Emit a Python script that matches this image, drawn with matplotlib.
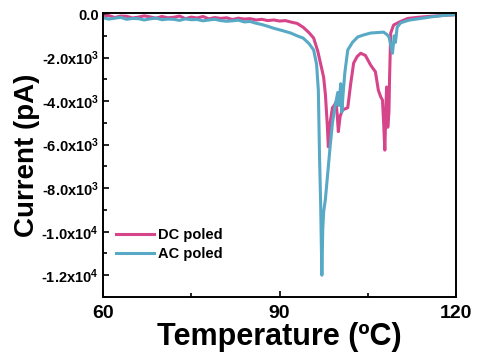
import matplotlib
matplotlib.use("Agg")
import matplotlib.pyplot as plt
from matplotlib.ticker import MultipleLocator, FixedLocator, FuncFormatter

plt.rcParams['font.family'] = ['Liberation Sans', 'DejaVu Sans']
plt.rcParams['font.weight'] = 'bold'
plt.rcParams['mathtext.fontset'] = 'custom'
plt.rcParams['mathtext.rm'] = 'Liberation Sans:bold'
plt.rcParams['mathtext.bf'] = 'Liberation Sans:bold'
plt.rcParams['mathtext.default'] = 'bf'

# DC poled curve (temperature in C, current in pA)
dc_temp = [60, 61, 62, 63, 64, 65, 66, 67, 68, 69, 70, 71, 72, 73, 74, 75, 76, 77,
           78, 79, 80, 81, 82, 83, 84, 85, 86, 87, 88, 89, 90, 91, 92, 93, 94, 95,
           95.8, 96.5, 97.0, 97.5, 97.8, 98.1, 98.3, 98.6, 99.0,
           99.3, 99.6, 99.8, 100.0, 100.3, 100.7, 101.2, 101.6, 102.1, 102.6,
           103.2, 103.8, 104.6, 105.5, 106.3, 106.8, 107.2, 107.5, 107.7, 107.9,
           108.1, 108.2, 108.4, 108.6, 108.7, 108.9, 109.4, 110.5, 111.8, 113.5,
           115.7, 118, 120]
dc_current = [-110, -70, -160, -90, -100, -180, -140, -80, -130, -190, -110, -170,
              -150, -90, -210, -140, -180, -110, -220, -160, -200, -170, -250, -190,
              -230, -210, -270, -240, -300, -270, -320, -300, -370, -430, -600,
              -850, -1100, -1700, -2300, -2900, -3700, -5000, -6100, -5000, -4300,
              -4200, -4050, -4600, -5400, -4700, -4400, -4350, -4300, -3200, -2250,
              -1950, -1800, -1900, -2350, -2650, -3500, -3800, -3950, -5000, -6250,
              -4200, -3350, -5200, -4500, -3000, -870, -500, -350, -200, -150, -100,
              -60, -30]

# AC poled curve
ac_temp = [60, 61, 62, 63, 64, 65, 66, 67, 68, 69, 70, 71, 72, 73, 74, 75, 76, 77,
           78, 79, 80, 81, 82, 83, 84, 85, 86, 87, 88, 89, 90.5, 91.9, 93, 94, 95,
           95.8, 96.3, 96.6, 96.8, 97.0, 97.1, 97.2, 97.35, 97.5, 97.8, 98.2, 98.6,
           99.0, 99.4, 99.9, 100.1, 100.4, 100.6, 100.8, 101.1, 101.6, 102.4, 103.3,
           104.4, 105.5, 106.6, 107.7, 108.3, 108.6, 108.9, 109.2, 109.5, 109.7,
           110.0, 110.6, 112, 114, 116, 118, 120]
ac_current = [-170, -230, -190, -150, -240, -200, -210, -270, -220, -180, -260,
              -230, -240, -290, -220, -260, -250, -310, -270, -240, -300, -330,
              -310, -280, -360, -340, -420, -480, -560, -650, -760, -870, -1000,
              -1100, -1350, -1650, -2300, -3500, -6500, -8800, -10500, -12000,
              -9900, -9100, -8500, -7300, -6100, -5000, -4300, -3600, -4200, -3200,
              -4500, -3700, -2700, -1650, -1300, -1050, -950, -870, -850, -830,
              -950, -1050, -1400, -1800, -1000, -1300, -600, -400, -280, -200, -120,
              -60, -20]

x_ticks = [60, 90, 120]
y_ticks = [0, -2000, -4000, -6000, -8000, -10000, -12000]

dc_color = "#d6448a"
ac_color = "#57a9c5"


def sci_label(v, pos):
    if v == 0:
        return "0.0"
    exp = 3 if abs(v) < 10000 else 4
    return r"-%.1fx10$^{%d}$" % (abs(v) / 10 ** exp, exp)


fig = plt.figure(figsize=(4.78, 3.56), dpi=100)
ax = fig.add_axes([0.2155, 0.1657, 0.7385, 0.7978])

ax.plot(dc_temp, dc_current, color=dc_color, lw=2.2, label="DC poled")
ax.plot(ac_temp, ac_current, color=ac_color, lw=2.2, label="AC poled")

ax.set_xlim(60, 120)
ax.set_ylim(-13000, 50)
ax.xaxis.set_major_locator(FixedLocator(x_ticks))
ax.xaxis.set_minor_locator(MultipleLocator(15))
ax.yaxis.set_major_locator(FixedLocator(y_ticks))
ax.yaxis.set_minor_locator(MultipleLocator(1000))
ax.yaxis.set_major_formatter(FuncFormatter(sci_label))

ax.tick_params(which='both', direction='in', top=False, right=False, width=1.2)
ax.tick_params(which='major', length=4)
ax.tick_params(which='minor', length=3)
ax.tick_params(axis='x', labelsize=14, pad=6)
ax.tick_params(axis='y', labelsize=10.5, pad=3)
for s in ax.spines.values():
    s.set_linewidth(1.4)

ax.set_xlabel("Temperature (ºC)", fontsize=22, fontweight='bold', labelpad=0)
ax.set_ylabel("Current (pA)", fontsize=20, fontweight='bold', labelpad=1)

ax.legend(loc='lower left', bbox_to_anchor=(0.0, 0.08), frameon=False,
          fontsize=10.5, handlelength=2.6, handletextpad=0.3, labelspacing=0.35)

fig.savefig("out.png", dpi=100)
